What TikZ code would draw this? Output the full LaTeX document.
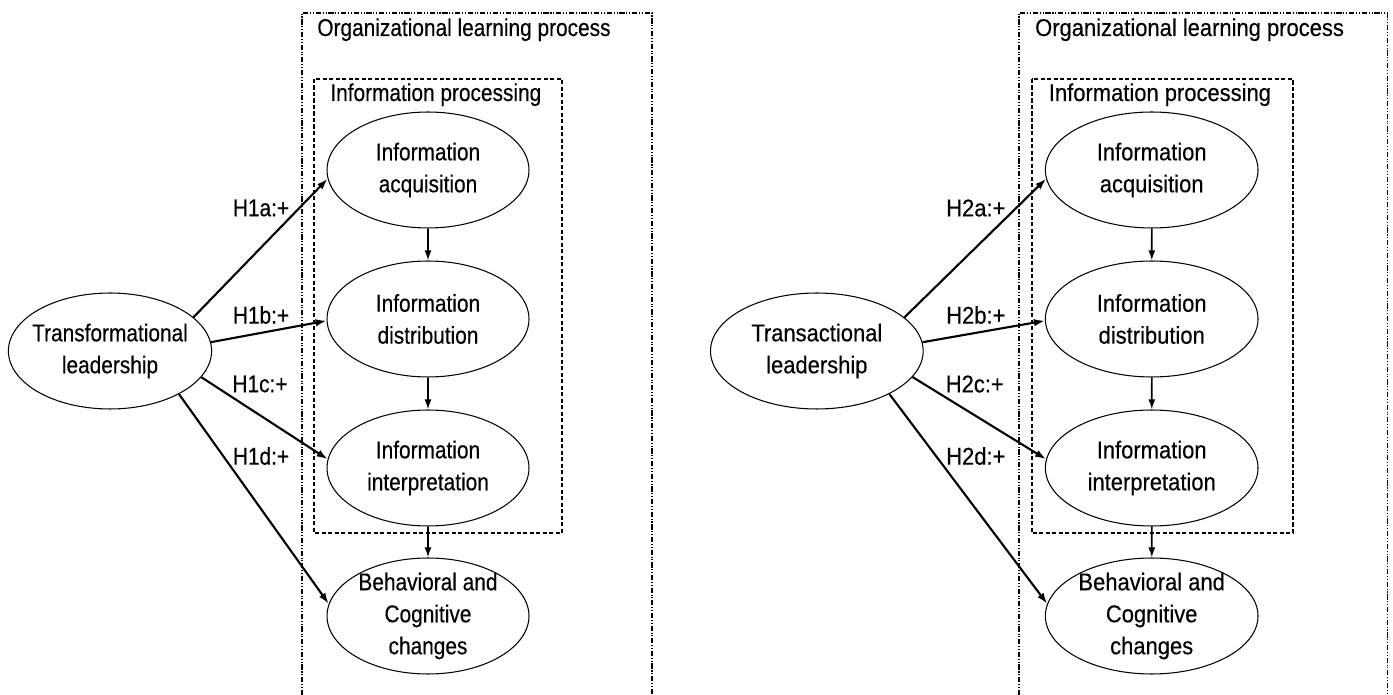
\documentclass[tikz,border=0pt]{standalone}
\usepackage{fontspec}
\setmainfont{Liberation Sans}[FakeStretch=0.86,FakeBold=0.3]
\usetikzlibrary{arrows.meta,shapes.geometric}

\begin{document}
\begin{tikzpicture}[x=0.02cm,y=-0.02cm,font=\fontsize{13.8}{18.2}\selectfont,
  oval/.style={ellipse,draw,line width=0.6pt,minimum width=4.04cm,minimum height=2.32cm,
    inner xsep=-0.12cm,inner ysep=-0.06cm,align=center},
  hyparrow/.style={-{Latex[length=0.22cm,width=0.15cm]},line width=1.2pt},
  flowarrow/.style={-{Latex[length=0.2cm,width=0.14cm]},line width=0.95pt},
  outerbox/.style={line width=0.8pt,dash pattern=on 3pt off 1pt on 0.6pt off 1pt on 0.6pt off 1pt},
  innerbox/.style={line width=1.1pt,dash pattern=on 2.4pt off 1.3pt},
  boxtitle/.style={anchor=base west,inner sep=0pt}]
\useasboundingbox (0,0) rectangle (1393,695);
  \foreach \dx/\sx/\lead/\hno in {0/1/Transformational/1,701/1.053/Transactional/2}
  {\begin{scope}[shift={(\dx,0)},xscale=\sx,transform shape]
  \draw [outerbox] (302,695) -- (302,13) -- (652,13) -- (652,695);
  \draw [innerbox] (314,79) rectangle (562,533);
  \node [boxtitle] (org\hno) at (317,36) {Organizational learning process};
  \node [boxtitle] (proc\hno) at (330,101) {Information processing};
  \node [oval] (lead\hno) at (110,351) {\lead\\leadership};
  \node [oval] (acq\hno) at (428,170) {Information\\acquisition};
  \node [oval] (dist\hno) at (428,319) {Information\\distribution};
  \node [oval] (interp\hno) at (428,468) {Information\\interpretation};
  \node [oval] (behav\hno) at (428,616) {Behavioral and\\Cognitive\\changes};
  \draw [flowarrow] (acq\hno) -- (dist\hno);
  \draw [flowarrow] (dist\hno) -- (interp\hno);
  \draw [flowarrow] (interp\hno) -- (behav\hno);
  \draw [hyparrow] (lead\hno.22) -- (acq\hno.185);
  \draw [hyparrow] (lead\hno.5) -- (dist\hno.181);
  \draw [hyparrow] (lead\hno.-16) -- (interp\hno.175);
  \draw [hyparrow] (lead\hno.-32) -- (behav\hno.173);
  \node (hyp\hno a) at (261,208) {H\hno a:+};
  \node (hyp\hno b) at (261,315) {H\hno b:+};
  \node (hyp\hno c) at (260,384) {H\hno c:+};
  \node (hyp\hno d) at (261,456) {H\hno d:+};
  \end{scope}}
\end{tikzpicture}
\end{document}
